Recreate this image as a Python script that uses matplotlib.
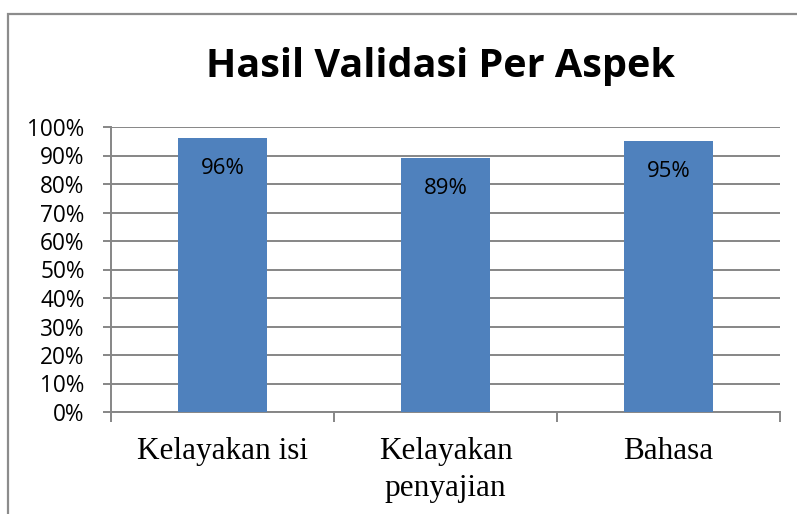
from matplotlib import pyplot as plt
from matplotlib.patches import Rectangle
from matplotlib.ticker import PercentFormatter

aspects = ['Kelayakan isi', 'Kelayakan\npenyajian', 'Bahasa']
scores = [96, 89, 95]
yticks = list(range(0, 101, 10))

W, H = 797, 514
fig = plt.figure(figsize=(W / 100, H / 100), dpi=100)

# outer chart frame (cut off at right/bottom like the screenshot)
fig.patches.append(Rectangle((8 / W, -0.05), 1.1, (H - 14) / H + 0.05,
                             transform=fig.transFigure, fill=False,
                             edgecolor='#8c8c8c', linewidth=1.6))

ax = fig.add_axes([111 / W, (H - 412) / H, (780 - 111) / W, (412 - 127) / H])

x = list(range(len(aspects)))
bars = ax.bar(x, scores, width=0.4, color='#4f81bd', zorder=3)
for xi, v in zip(x, scores):
    ax.annotate(f'{v}%', (xi, v), xytext=(0, -22), textcoords='offset points',
                ha='center', va='center', fontsize=16, family='Open Sans',
                zorder=4)

ax.set_xlim(-0.5, len(aspects) - 0.5)
ax.set_ylim(0, 100)
ax.set_yticks(yticks)
ax.yaxis.set_major_formatter(PercentFormatter(decimals=0))
ax.grid(axis='y', color='#868686', linewidth=1.4, zorder=0)

ax.set_xticks(x)
ax.set_xticklabels(aspects, family='Liberation Serif', fontsize=22.5,
                   linespacing=1.35)
ax.set_xticks([i - 0.5 for i in range(len(aspects) + 1)], minor=True)
ax.tick_params(axis='x', which='major', length=0, pad=18)
ax.tick_params(axis='x', which='minor', length=7, width=1.4, color='#868686',
               direction='out')
ax.tick_params(axis='y', length=6, width=1.4, color='#868686', pad=13,
               labelsize=16.3)
for lab in ax.get_yticklabels():
    lab.set_family('Open Sans')

for s in ['top', 'right']:
    ax.spines[s].set_visible(False)
for s in ['left', 'bottom']:
    ax.spines[s].set_color('#868686')
    ax.spines[s].set_linewidth(1.4)

fig.text(440 / W, 1 - 67 / H, 'Hasil Validasi Per Aspek', ha='center',
         va='center', fontsize=28.5, fontweight='bold', family='Open Sans')

fig.savefig('out.png', dpi=100)
